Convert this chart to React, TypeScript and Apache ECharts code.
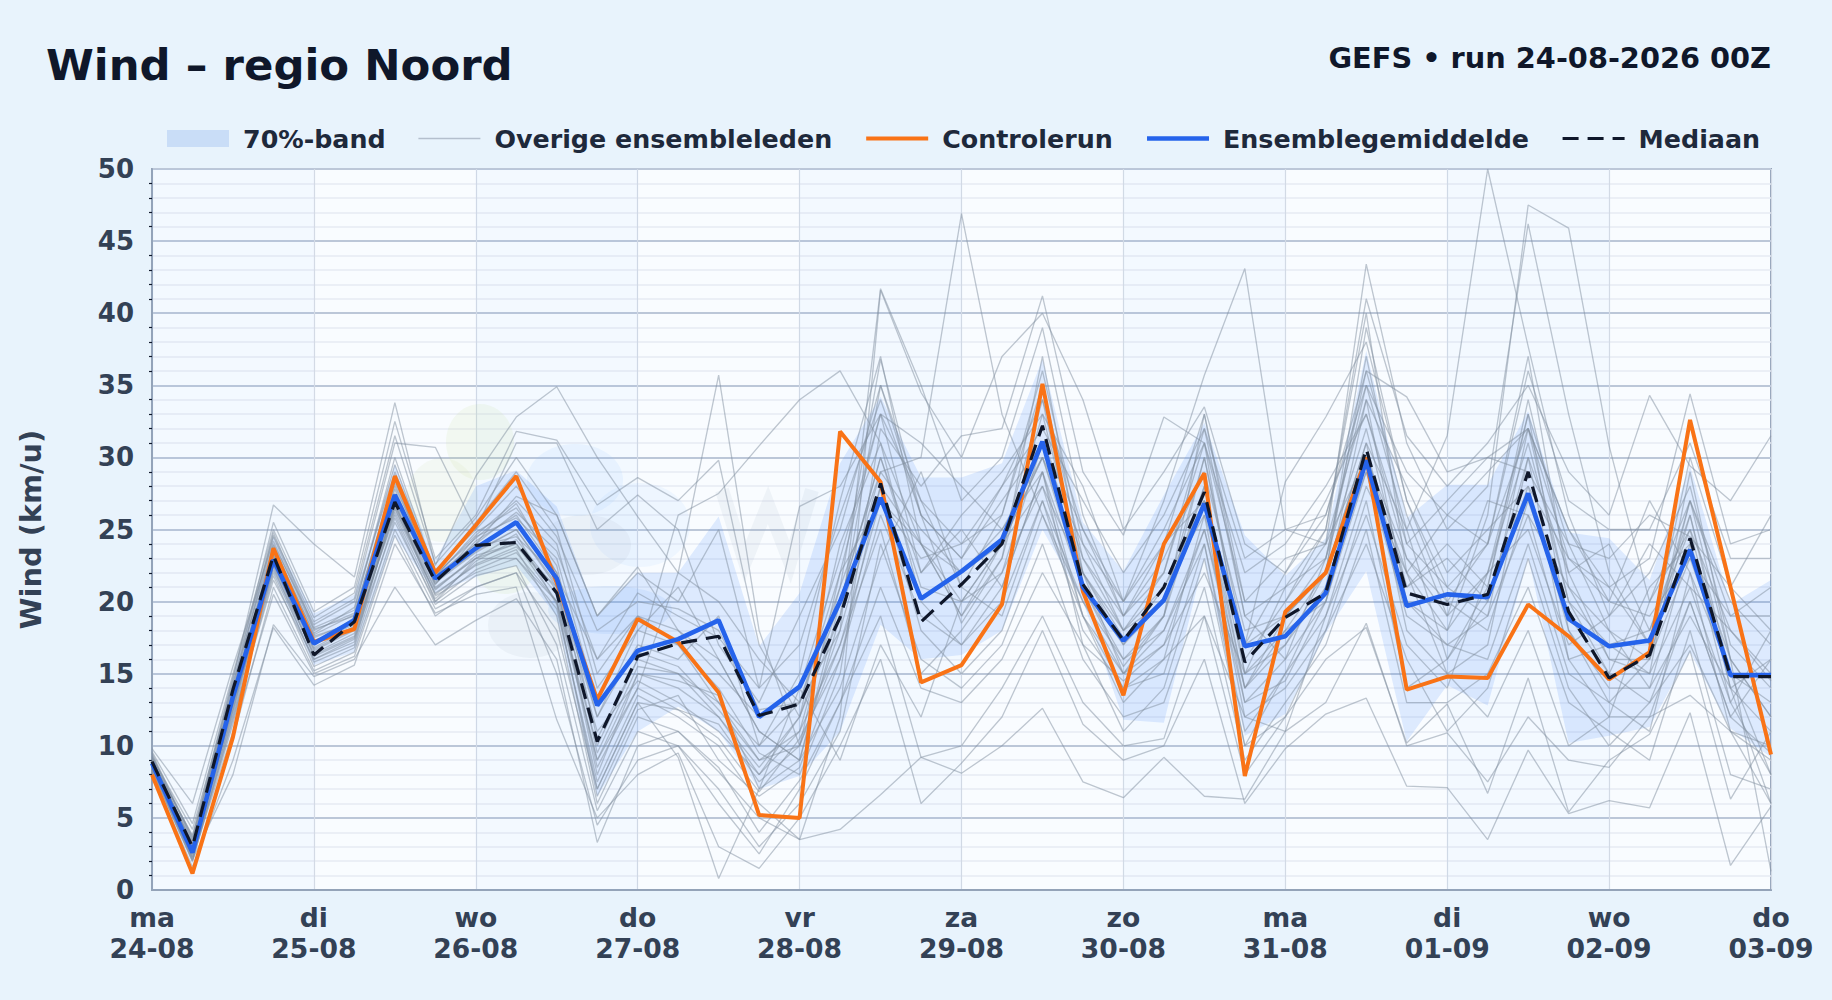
import React, { useEffect, useRef } from "react";
import * as echarts from "echarts";

const dayNames = ["ma", "di", "wo", "do", "vr", "za", "zo", "ma", "di", "wo", "do"];
const dayDates = ["24-08", "25-08", "26-08", "27-08", "28-08", "29-08", "30-08", "31-08", "01-09", "02-09", "03-09"];

const control = [8,1.15,10.6,23.7,17.2,18.1,28.7,22,25.3,28.7,21.3,13.2,18.8,17.2,13.7,5.2,5,31.8,28.3,14.4,15.6,19.8,35.1,20.7,13.5,24,28.9,7.9,19.3,22,30,13.9,14.8,14.7,19.8,17.6,14.6,16.5,32.6,21,9.4];
const mean = [8.8,2.6,13.4,22.9,17.1,18.7,27.4,21.6,23.7,25.5,21.6,12.8,16.6,17.4,18.7,12,14.1,20,27.2,20.2,22.1,24.3,31.1,21,17.3,20.1,26.8,16.9,17.6,20.6,29.8,19.7,20.5,20.3,27.5,18.8,16.9,17.3,23.6,14.9,14.9];
const median = [8.9,3,13.9,23.2,16.3,18.6,26.9,21.4,23.9,24.1,20.6,10.3,16.2,17.1,17.6,12.1,12.9,18.9,28.2,18.6,21.2,24,32.2,21.2,17.3,21,27.6,15.8,18.9,20.6,30.6,20.6,19.8,20.5,29,19.3,14.7,16.3,24.4,14.8,14.8];
const bandUpper = [9.4,3.6,14.8,24.5,19.2,20.5,29.5,22.9,28,29.1,26.6,19,22,22,25.9,16.9,20.6,29.6,34.2,28.6,28.6,29.6,36.8,25.5,22.1,27.4,32.4,24.6,21.8,24.4,37.4,25.8,28.1,28.1,33.2,24.8,24.4,21.5,29.4,19.8,21.5];
const bandLower = [8.2,1.8,11.5,22,15.6,16.5,24.5,20.6,21.7,22.5,19,6.5,11,12.7,11,7,7.9,11,18.4,16,16.3,18,25,20,11.8,11.6,23,10.7,12.2,17.8,22.1,10.3,14.2,12.8,23.1,10.2,10.7,11.3,16.5,11.2,9.2];

const memberA = [9.5,3.6,14.6,26.7,24,21.7,33.8,22.5,28.7,32.8,34.9,30,25.9,22,20,16,13,22,27,24,19,24,30,22,18,21,26,17,19,22,31,25,31.5,50,37.7,26,19,22,28,17,14];
const memberB = [9.2,4.2,14.2,25.5,19.3,21,32.5,23,26,31.8,31.2,26.7,28.6,27,29.8,17,12,20,30,22,25,21,29,19,15,18,25,14,17,21,34,20,18,26,47.5,45.9,30.8,20,25,18,15];
const memberC = [8.9,3.8,14.8,24.6,18.6,20.2,31,30.7,25,31,31,25,27.4,25,17,13,19,25,35,27,21,26,36,24,18,20,30,16,20,24,43.4,31,25,28,46.2,33,22,17,30,21,18];
const memberD = [8.5,3.1,13.2,23.8,17.8,19.6,29.5,21.8,24,27.3,26,19,22.4,18,16,11,9,19,29,30,46.9,33,26,20,15,17,22,15,18,20,30,22,18,22,33,24,18,14,24,13,8];
const memberE = [9.8,6,15.5,24.2,18,19.2,28.6,21,23,24,20,10,16,15,13,9,10,18,28,24,19,23,33,28,20,27,35.7,43.1,25,24,30,21,23,20,30,22,16,15,21,13,18];
const memberF = [8.2,2,12,21.5,16,17.2,27,20,23,23,20,9,14,22,35.7,18,10,17,25,15,18,22,31,25,20,24,27,17,28.3,32.8,38,27,21,24,32,25,20,27,22,11,10];
const memberG = [8,1.2,10.5,21,15.2,16.5,25,19.5,21,22,18,7,13,9.2,0.8,7,14,9,17,12,20,24,28,19,14,16,19,12,11,19,28,22,15,12,18,10,12,20,27,16,1.3];
const memberH = [8.7,2.9,13.6,23,17,18.8,27.5,21.4,23.5,25,21,8,15,14,12,8,11,21,36.8,26,23,28,34,21,16,19,28,14,18,22,39,27,20,24,37,21,18,16,26,15,13];
const memberI = [9,3.3,13.8,23.4,17.3,18.2,26.6,21.2,24.2,26,22,12,17,16,19,10,13,18,41.7,35,27,30,39,26,19,22,32,19,21,25,41,31.5,28,31,35,29,26,34.3,29.4,27,31.5];
const memberJ = [8.6,2.4,12.8,22.2,16.4,17.8,26.2,20.6,22.5,23.6,19,6,12,11,8.2,5,3.5,12,41.6,34.5,30,37,40,34,25,29,33.5,24,22,26,36,34.2,29,30,32,25,21,23,34.4,24,25];
const memberK = [9.1,3,13,23.2,17.6,18.5,28,21.8,24.6,27,24,14,18,17,14,9.5,8,15,32,28,31.5,32,41.2,29,24.6,32.8,31,20,23,24,34,28,22,25,28,23,20,19,23,19,21];
const memberL = [8.4,2.2,11.5,22.4,15.8,17,26.8,20.4,22,23,19.5,7.5,13.5,12,10,6,3.5,4.2,6.6,9.2,8.1,10,12.6,7.5,6.4,9.2,6.5,6.3,11,13,18.5,10,10.9,7.5,12,9,8.5,12,13.5,11,9];
const memberM = [8.1,1.6,9,18.2,14.2,15.6,24,19.2,20.5,21,11.8,5,8,9.5,3,1.5,5,10,16,6,8.8,12,18,11.5,9,10,16,6,9.8,12.2,13.3,7.2,7.1,3.5,9.7,5.3,6.2,5.7,12.3,1.7,5.8];
const memberN = [8.3,2.1,8,18.4,14.8,16,21,17,18.7,20.2,16,3.3,10,11,8.5,4,7.6,13,19,9.2,10,14,19,13,10,10.5,19,8,12,16,18.2,10.2,12.9,6.7,14.7,5.4,9,10.8,16.6,6.3,11];
const memberO = [9.3,3.5,14,24.8,18.2,19.4,30,22,25.5,29,25,15,19,18,15,12,14,23,33,31,28,25,30,24,20,25,31,22,24,28,33,24,27,30,29,24,23,26,24.5,21,26];
const memberP = [8.8,2.7,13.1,23.3,16.8,18.3,27.2,21.5,23.8,24.5,21.8,16,20.6,19,17.5,14,17,26,34,26,23,27,31,23,19,23,29,18,19,23,36,26,19,22,31,20,17,15,29,16,12];
const memberQ = [9,3.2,12.5,22.8,16.2,17.5,26.4,20.8,23.2,24,20.5,9,15,14.5,13.5,7,9,20,30,21,20,22,28,22,17,20,27,13,16,20,30,23,20,18,27,19,15,13,20,12,16];
const memberR = [8.6,2.5,13.3,23.6,17.5,18.6,27.8,21.2,24.5,25.8,23,13,16.5,15.5,12.5,9,11,17,27,23,24,26,35,23,18,22,31,15,21,23,32,21,24,21,34,22,24,18,26,14,11];
const memberS = [8.9,2.8,12.9,22.6,16.6,18,26,20.2,22.8,24.3,20.8,11,14.5,13,11,8,12,24,31,20,17,20,27,20,16,18,24,11,15,21,29,19,17,16,24,15,13,11,22,15,8];
const memberT = [9.4,3.4,14.4,24,18.4,20,29,22.2,25,28,24.5,18,20,19.5,18,12.5,13,21,29,25,22,24,30,21,15.5,19,30,17,22,27,33,23,19,27,26,21,16,16,27,19,19];
const memberU = [8.7,2.6,12.2,22,16,17.4,25.5,20,22.2,23.4,20,6.5,12.5,13.5,9,6.5,8.5,16,28,18,15,18,26,19,13,16,26,12,14,18,27,14,16,20,28,18,14,14,19,14,6];
const memberV = [9.6,4.6,15,25,18.9,20.6,31.5,22.6,25.8,30,26,19,22,20,25,14,26.6,28,33,27,24,28,32,27,22,26,32,23,25,26,35,29,26,24,36,27,25,25,31,23,23];
const memberW = [8.5,2.3,11.8,21.8,15.5,16.8,25.8,19.8,21.8,22.5,17,5.5,11,10,7,3,6,11,24,16,14,17,24,16,12,13,21,9,13,17,25,13,13,15,21,13,11,9,18,8,7];
const memberX = [9.1,3.7,13.9,24.5,18.1,19,28.8,21.7,24.8,26.5,22.5,10.5,16,26,27.5,30.8,34,36,31,24,22,25,29,21,17,21,27,14,19,22,31,18,15,17,30,16,17,18,25,14,16];
const memberY = [8.8,2.9,13.4,23.1,17.2,18.4,27,21.3,23.4,25,21.2,8.5,14,12.5,11.5,7.5,10,22,33,22,26,29,33,22,17.5,20,28,15,17,22,37,24,21,19,32,20,15,21,24,16,12];
const memberZ = [8.4,2,12.4,22.5,16.3,17.6,26.5,20.5,22.6,23.8,21,12,18,21,16,11,9,14,23,29,21,19,27,18,14,15,24,10,15,19,26,17,14,22,25,17,19,24,21,18,14.5];
const memberAA = [9.2,3,13.6,23.7,17,18.9,28.2,21.6,24,26.2,23.5,16,19,17,13,10,15,27,37,24,20,24,34,25,19,24,33,20,20,25,40,22,26,29,32,23,21,17,27,20,17];
const memberAB = [8.6,2.2,11,20.5,15,16.2,24.6,19,21,22,15,4.5,9,10,6,2.5,7,13,21,14,13,16,22,17,11,14,23,10,12,18,24,16,11,14,23,14,10,13,17,11,6];
const memberAC = [9,3.1,13.7,23.9,17.7,19.1,28.4,21.9,24.4,26.8,22,9.5,15.5,15,12,8.5,12,19,35,26,18.5,23,37,22,15,19,33,19,16,23,35,25,16,21,33,18,13,16,23,15,15];
const memberAD = [8.7,2.5,12.6,22.9,16.7,18.1,26.7,20.9,23,24.7,19.8,7,13,12.5,10.5,6.8,10.5,16,26,19,17,21,29,17,14.5,17,25,13,14.5,20,29,20,17,19,26,16,12,12,20,12,9.5];

const members = [memberA, memberB, memberC, memberD, memberE, memberF, memberG, memberH, memberI, memberJ, memberK, memberL, memberM, memberN, memberO, memberP, memberQ, memberR, memberS, memberT, memberU, memberV, memberW, memberX, memberY, memberZ, memberAA, memberAB, memberAC, memberAD];

const FONT = "'DejaVu Sans', sans-serif";
const categories = control.map((_, i) => {
  const d = Math.floor(i / 4);
  return i % 4 === 0 ? `${dayNames[d]}\n${dayDates[d]}` : `${dayDates[d]} ${i % 4 * 6}u`;
});

export default function App() {
  const ref = useRef<HTMLDivElement>(null);
  useEffect(() => {
    document.body.style.margin = "0";
    const chart = echarts.init(ref.current!, undefined, { renderer: "svg" });
    const stripes: any[] = [];
    for (let d = 0; d < 10; d += 2) stripes.push([{ xAxis: d * 4 }, { xAxis: (d + 1) * 4 }]);
    const blob = (cx: number, cy: number, rx: number, ry: number, fill: string) => ({
      type: "ellipse", silent: true, z: 1, shape: { cx, cy, rx, ry }, style: { fill },
    });
    const lineBase = { type: "line", showSymbol: false, symbol: "none", silent: true, animation: false, emphasis: { disabled: true } };
    const noMark = { opacity: 0 };
    chart.setOption({
      animation: false,
      backgroundColor: "#e8f3fc",
      title: [
        { text: "Wind – regio Noord", left: 46, top: 43, padding: 0, textStyle: { fontFamily: FONT, fontWeight: "bold", fontSize: 43.4, color: "#0f172a" } },
        { text: "GEFS • run 24-08-2026 00Z", right: 61, top: 43, padding: 0, textStyle: { fontFamily: FONT, fontWeight: "bold", fontSize: 28.8, color: "#0f172a" } },
      ],
      legend: {
        left: 167, top: 126, padding: 0, itemWidth: 62, itemHeight: 17, itemGap: 32, selectedMode: false,
        textStyle: { fontFamily: FONT, fontWeight: "bold", fontSize: 25.35, color: "#1e293b", padding: [0, 0, 0, 9] },
        data: [
          { name: "70%-band", icon: "rect", itemStyle: { color: "#c9ddf7" } },
          { name: "Overige ensembleleden", itemStyle: noMark, lineStyle: { color: "#b4bfcd", width: 1.6 } },
          { name: "Controlerun", itemStyle: noMark, lineStyle: { color: "#f97316", width: 4 } },
          { name: "Ensemblegemiddelde", itemStyle: noMark, lineStyle: { color: "#2563eb", width: 4.6 } },
          { name: "Mediaan", itemStyle: noMark, lineStyle: { color: "#0f172a", width: 3.2, type: [16, 9] } },
        ],
      },
      grid: { left: 152, top: 169, width: 1619, height: 721, show: true, backgroundColor: "#f9fcff", borderColor: "#94a3b8", borderWidth: 2, containLabel: false },
      xAxis: {
        type: "category", data: categories, boundaryGap: false,
        axisLine: { lineStyle: { color: "#94a3b8", width: 2 } },
        axisTick: { show: false },
        axisLabel: { interval: 3, margin: 12, fontFamily: FONT, fontWeight: "bold", fontSize: 26.6, lineHeight: 31, color: "#334155", showMaxLabel: true, showMinLabel: true, hideOverlap: false },
        splitLine: { show: true, interval: 3, lineStyle: { color: "#d3dae5", width: 1.2 } },
      },
      yAxis: {
        type: "value", min: 0, max: 50, interval: 5,
        name: "Wind (km/u)", nameLocation: "middle", nameRotate: 90, nameGap: 107,
        nameTextStyle: { fontFamily: FONT, fontWeight: "bold", fontSize: 28.8, color: "#334155" },
        axisLine: { show: true, lineStyle: { color: "#94a3b8", width: 2 } },
        axisTick: { show: false },
        minorTick: { show: true, splitNumber: 5, length: 3, lineStyle: { color: "#0f172a", width: 1.2 } },
        axisLabel: { margin: 18, fontFamily: FONT, fontWeight: "bold", fontSize: 26, color: "#334155" },
        splitLine: { show: true, lineStyle: { color: "#bcc7d8", width: 1.8 } },
        minorSplitLine: { show: true, lineStyle: { color: "#e6ebf3", width: 1.6 } },
      },
      graphic: [
        blob(480, 442, 34, 38, "rgba(190,215,130,0.11)"),
        blob(442, 500, 36, 42, "rgba(190,215,130,0.09)"),
        blob(505, 568, 30, 26, "rgba(190,215,130,0.11)"),
        blob(575, 480, 48, 36, "rgba(147,197,253,0.12)"),
        blob(640, 525, 50, 42, "rgba(147,197,253,0.10)"),
        blob(585, 545, 46, 30, "rgba(100,116,139,0.06)"),
        blob(530, 625, 42, 33, "rgba(100,116,139,0.06)"),
        blob(610, 610, 62, 24, "rgba(96,165,250,0.11)"),
        { type: "polyline", silent: true, z: 1, shape: { points: [[722, 490], [745, 562], [768, 505], [790, 562], [812, 490]] }, style: { fill: "none", stroke: "rgba(148,163,184,0.10)", lineWidth: 14 } },
      ],
      series: [
        { ...lineBase, name: "band-onder", data: bandLower, stack: "band", z: 2, lineStyle: { width: 0 }, areaStyle: { opacity: 0 },
          markArea: { silent: true, itemStyle: { color: "rgba(147,197,253,0.05)" }, label: { show: false }, data: stripes } },
        { ...lineBase, name: "70%-band", data: bandUpper.map((u, i) => +(u - bandLower[i]).toFixed(2)), stack: "band", z: 2, lineStyle: { width: 0 }, itemStyle: { color: "#c9ddf7" }, areaStyle: { color: "rgba(59,130,246,0.2)" } },
        ...members.map((m) => ({ ...lineBase, name: "Overige ensembleleden", data: m, z: 3, itemStyle: { color: "#9aa6b6" }, lineStyle: { color: "rgba(130,143,160,0.5)", width: 1.3 } })),
        { ...lineBase, name: "Controlerun", data: control, z: 4, itemStyle: { color: "#f97316" }, lineStyle: { color: "#f97316", width: 4 } },
        { ...lineBase, name: "Ensemblegemiddelde", data: mean, z: 5, itemStyle: { color: "#2563eb" }, lineStyle: { color: "#2563eb", width: 4.6 } },
        { ...lineBase, name: "Mediaan", data: median, z: 6, itemStyle: { color: "#0f172a" }, lineStyle: { color: "#0f172a", width: 3.2, type: [16, 9] } },
      ],
    });
    return () => chart.dispose();
  }, []);
  return <div ref={ref} style={{ position: "fixed", left: 0, top: 0, width: 1832, height: 1000 }} />;
}
